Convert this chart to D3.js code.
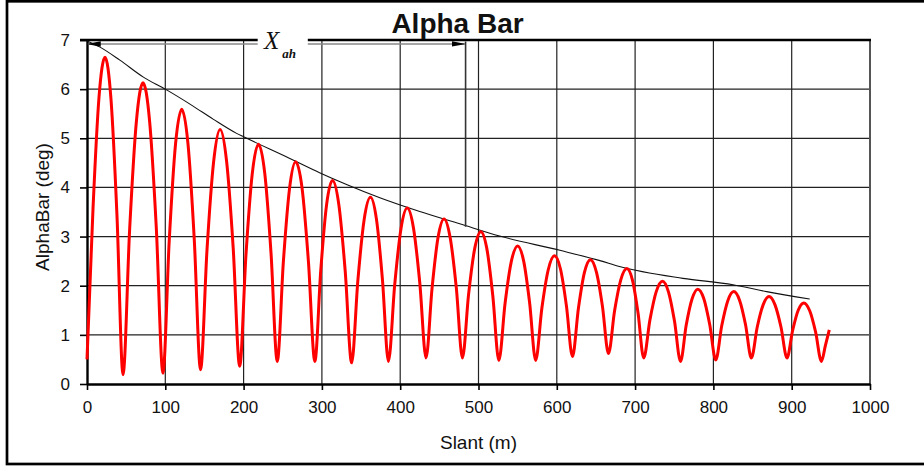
<!DOCTYPE html>
<html>
<head>
<meta charset="utf-8">
<title>Alpha Bar</title>
<script src="https://cdn.jsdelivr.net/npm/d3@7"></script>
<style>
  body { margin: 0; background: #fff; }
  text { font-family: "Liberation Sans", Arial, sans-serif; fill: #111; }
  .axis path, .axis line { stroke: #000; }
  .grid line { stroke: #222; stroke-width: 1.2; }
</style>
</head>
<body>
<svg id="chart" width="924" height="468"></svg>
<script>
// values
var slant = [0, 7.7, 15.3, 23, 30.7, 38.3, 46,
  54.5, 63, 71.5, 80, 88.5, 97,
  105, 113, 121, 129, 137, 145,
  153.3, 161.7, 170, 178.3, 186.7, 195,
  203, 211, 219, 227, 235, 243,
  250.8, 258.7, 266.5, 274.7, 282.8, 291,
  298.5, 306, 313.5, 321.7, 329.8, 338,
  346, 354, 362, 369.7, 377.3, 385,
  393, 401, 409, 417, 425, 433,
  440.7, 448.3, 456, 463.8, 471.7, 479.5,
  487.3, 495.2, 503, 510.7, 518.3, 526,
  534, 542, 550, 557.7, 565.3, 573,
  581, 589, 597, 604.7, 612.3, 620,
  627.7, 635.3, 643, 650.7, 658.3, 666,
  673.8, 681.7, 689.5, 696.7, 703.8, 711,
  719, 727, 735, 742.7, 750.3, 758,
  765.3, 772.7, 780, 787.7, 795.3, 803,
  810.7, 818.3, 826, 833.5, 841, 848.5,
  856, 863.5, 871, 878.7, 886.3, 894,
  901.2, 908.3, 915.5, 923, 930.5, 938,
  943, 948];

var alphaBar = [0.5, 3.58, 5.83, 6.65, 5.78, 3.42, 0.19,
  3.16, 5.33, 6.13, 5.34, 3.18, 0.22,
  2.91, 4.87, 5.59, 4.88, 2.94, 0.29,
  2.74, 4.52, 5.18, 4.53, 2.77, 0.36,
  2.62, 4.27, 4.88, 4.29, 2.67, 0.46,
  2.49, 3.98, 4.52, 3.98, 2.49, 0.46,
  2.30, 3.65, 4.14, 3.64, 2.29, 0.43,
  2.12, 3.35, 3.80, 3.35, 2.13, 0.46,
  2.02, 3.16, 3.58, 3.17, 2.06, 0.53,
  1.95, 2.98, 3.36, 2.98, 1.95, 0.53,
  1.82, 2.76, 3.10, 2.75, 1.79, 0.48,
  1.65, 2.50, 2.81, 2.50, 1.65, 0.48,
  1.55, 2.32, 2.61, 2.34, 1.59, 0.56,
  1.55, 2.27, 2.53, 2.27, 1.58, 0.62,
  1.49, 2.12, 2.35, 2.11, 1.44, 0.53,
  1.31, 1.88, 2.09, 1.87, 1.28, 0.46,
  1.20, 1.73, 1.93, 1.74, 1.21, 0.49,
  1.19, 1.69, 1.88, 1.70, 1.21, 0.53,
  1.16, 1.61, 1.78, 1.61, 1.16, 0.53,
  1.09, 1.50, 1.65, 1.49, 1.06, 0.46,
  0.78, 1.10];

var envSlant = [0, 16, 42, 71.5, 100, 135, 161, 191, 200, 259, 297, 333, 374, 425, 476, 527, 604, 655, 680, 761, 825, 868, 923];
var envAlpha = [6.98, 6.86, 6.59, 6.25, 6.0, 5.66, 5.39, 5.10, 5.03, 4.59, 4.30, 4.05, 3.79, 3.51, 3.26, 3.01, 2.72, 2.51, 2.39, 2.15, 2.02, 1.88, 1.73];

var xTicks = [0, 100, 200, 300, 400, 500, 600, 700, 800, 900, 1000];
var yTicks = [0, 1, 2, 3, 4, 5, 6, 7];

// X_ah marker: arrow from 0 to xah at the top, drop line down to the envelope
var xah = 483.5;
var xahTop = 6.92;
var xahBottom = 3.2;

var svg = d3.select("#chart"),
    margin = {top: 40, right: 54, bottom: 84, left: 87},
    width = +svg.attr("width") - margin.left - margin.right,
    height = +svg.attr("height") - margin.top - margin.bottom;

// outer frame (right edge runs off the picture)
svg.append("rect")
    .attr("x", 7).attr("y", 1.3)
    .attr("width", 940).attr("height", 462.7)
    .attr("fill", "none")
    .attr("stroke", "#000")
    .attr("stroke-width", 2.7);

var defs = svg.append("defs");
defs.append("marker")
    .attr("id", "head")
    .attr("viewBox", "0 0 10 10")
    .attr("preserveAspectRatio", "none")
    .attr("refX", 9).attr("refY", 5)
    .attr("markerWidth", 9).attr("markerHeight", 3.4)
    .attr("orient", "auto-start-reverse")
  .append("path")
    .attr("d", "M0,0L10,5L0,10z")
    .attr("fill", "#000");

var g = svg.append("g").attr("transform", "translate(" + margin.left + "," + margin.top + ")");

var x = d3.scaleLinear().domain([0, 1000]).range([0, width]);
var y = d3.scaleLinear().domain([0, 7]).range([height, 0]);

// grid
g.append("g").attr("class", "grid")
  .selectAll("line").data(xTicks.slice(1, -1)).enter().append("line")
    .attr("x1", d => x(d)).attr("x2", d => x(d))
    .attr("y1", 0).attr("y2", height);

g.append("g").attr("class", "grid")
  .selectAll("line").data(yTicks.slice(1, -1)).enter().append("line")
    .attr("x1", 0).attr("x2", width)
    .attr("y1", d => y(d)).attr("y2", d => y(d));

// right and top edges of the plot
g.append("line")
    .attr("x1", x(1000)).attr("x2", x(1000))
    .attr("y1", y(7)).attr("y2", y(0))
    .attr("stroke", "#555").attr("stroke-width", 2);

g.append("line")
    .attr("x1", -7).attr("x2", x(1000) + 1)
    .attr("y1", y(7)).attr("y2", y(7))
    .attr("stroke", "#000").attr("stroke-width", 2.4);

// axes
g.append("g")
    .attr("class", "axis axis--x")
    .attr("transform", "translate(0," + height + ")")
    .call(d3.axisBottom(x).tickValues(xTicks).tickFormat(d3.format("d"))
      .tickSize(6).tickSizeOuter(0).tickPadding(11));

g.append("g")
    .attr("class", "axis axis--y")
    .call(d3.axisLeft(y).tickValues(yTicks).tickFormat(d3.format("d"))
      .tickSize(7).tickSizeOuter(0).tickPadding(10));

g.selectAll(".axis .domain").attr("stroke-width", 2.4);
g.selectAll(".axis .tick line").attr("stroke-width", 1.6);
g.selectAll(".axis text")
    .attr("font-size", 17)
    .attr("font-family", "'Liberation Sans', Arial, sans-serif")
    .attr("fill", "#111");

// envelope
var envLine = d3.line()
    .x(d => x(d[0]))
    .y(d => y(d[1]))
    .curve(d3.curveMonotoneX);

g.append("path")
    .datum(envSlant.map((s, i) => [s, envAlpha[i]]))
    .attr("d", envLine)
    .attr("fill", "none")
    .attr("stroke", "#111")
    .attr("stroke-width", 1.1);

// alpha bar oscillation
var alphaLine = d3.line()
    .x(d => x(d[0]))
    .y(d => y(d[1]))
    .curve(d3.curveMonotoneX);

g.append("path")
    .datum(slant.map((s, i) => [s, alphaBar[i]]))
    .attr("d", alphaLine)
    .attr("fill", "none")
    .attr("stroke", "#ff0000")
    .attr("stroke-width", 3)
    .attr("stroke-linejoin", "round");

// X_ah annotation
g.append("line")
    .attr("x1", x(1)).attr("x2", x(xah) - 1)
    .attr("y1", y(xahTop)).attr("y2", y(xahTop))
    .attr("stroke", "#888")
    .attr("stroke-width", 1.6)
    .attr("marker-start", "url(#head)")
    .attr("marker-end", "url(#head)");

g.append("line")
    .attr("x1", x(xah)).attr("x2", x(xah))
    .attr("y1", y(6.97)).attr("y2", y(xahBottom))
    .attr("stroke", "#333")
    .attr("stroke-width", 1.6);

g.append("rect")
    .attr("x", x(218)).attr("y", y(7.13))
    .attr("width", x(282) - x(218))
    .attr("height", y(6.87) - y(7.13))
    .attr("fill", "#fff");

var lab = g.append("text")
    .attr("x", x(226))
    .attr("y", y(xahTop) + 5)
    .style("font-family", "'Liberation Serif', 'Times New Roman', serif")
    .style("font-style", "italic");
lab.append("tspan").attr("font-size", 25).text("X");
lab.append("tspan").attr("font-size", 13).attr("font-weight", "bold").attr("dx", 3).attr("dy", 9).text("ah");

// titles
svg.append("text")
    .attr("x", 457.5).attr("y", 33)
    .attr("text-anchor", "middle")
    .attr("font-size", 28)
    .attr("font-weight", "bold")
    .attr("fill", "#000")
    .text("Alpha Bar");

svg.append("text")
    .attr("x", margin.left + width / 2).attr("y", 449)
    .attr("text-anchor", "middle")
    .attr("font-size", 19)
    .text("Slant (m)");

svg.append("text")
    .attr("transform", "translate(49," + (margin.top + height / 2 - 5) + ") rotate(-90)")
    .attr("text-anchor", "middle")
    .attr("font-size", 19)
    .text("AlphaBar (deg)");
</script>
</body>
</html>
